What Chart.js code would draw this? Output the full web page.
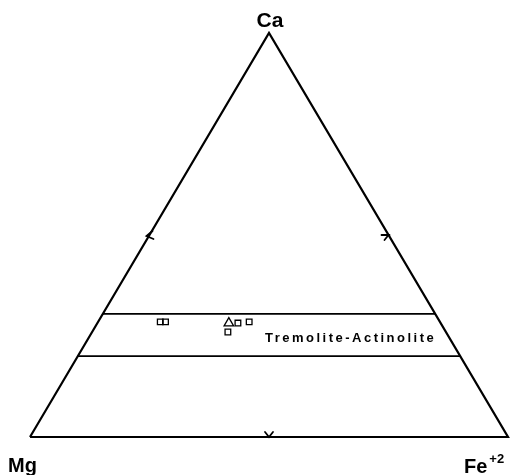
<!DOCTYPE html>
<html>
<head>
<meta charset="utf-8">
<script src="https://cdn.jsdelivr.net/npm/chart.js@4.4.1/dist/chart.umd.min.js"></script>
<style>
  html, body { margin: 0; padding: 0; background: #fff; }
  canvas { display: block; }
</style>
</head>
<body>
<canvas id="ternary" width="523" height="475"></canvas>
<script>
// Ca - Mg - Fe+2 amphibole diagram
const fieldBounds = [0.305, 0.2];          // Ca fraction of the field boundaries
const fieldName = 'Tremolite-Actinolite';
const fieldLabelAt = [0.245, 0.369];       // [Ca, Fe] where the field name starts

// analyses, Ca and Fe fractions (Mg = 1 - Ca - Fe)
const squareCa = [0.285, 0.285, 0.260, 0.282, 0.285];
const squareFe = [0.130, 0.141, 0.284, 0.294, 0.316];
const triangleCa = [0.282];
const triangleFe = [0.275];

// ternary -> cartesian, Mg at (0,0), Fe at (1,0), Ca at (0.5,1)
function tern(ca, fe) {
  return { x: fe + ca / 2, y: ca };
}

const outline = [tern(0, 0), tern(0, 1), tern(1, 0), tern(0, 0)];

const boundarySets = fieldBounds.map(ca => ({
  data: [tern(ca, 0), tern(ca, 1 - ca)],
  showLine: true,
  borderColor: '#000',
  borderWidth: 1.8,
  pointRadius: 0,
}));

const FONT = '"Liberation Sans", Arial, Helvetica, sans-serif';

const decorations = {
  id: 'decorations',
  afterDatasetsDraw(chart) {
    const ctx = chart.ctx;
    const xs = chart.scales.x, ys = chart.scales.y;
    const px = p => [xs.getPixelForValue(p.x), ys.getPixelForValue(p.y)];

    ctx.save();
    ctx.strokeStyle = '#000';
    ctx.lineWidth = 1.8;
    ctx.lineCap = 'round';

    // 50% marks on the three sides
    let [x, y] = px(tern(0.5, 0));
    ctx.beginPath();
    ctx.moveTo(x + 3, y - 4);
    ctx.lineTo(x - 3, y + 1);
    ctx.lineTo(x + 4, y + 4);
    ctx.stroke();

    [x, y] = px(tern(0.5, 0.5));
    ctx.beginPath();
    ctx.moveTo(x - 7, y);
    ctx.lineTo(x + 1, y);
    ctx.moveTo(x, y);
    ctx.lineTo(x - 4, y + 5);
    ctx.stroke();

    [x, y] = px(tern(0, 0.5));
    ctx.beginPath();
    ctx.moveTo(x - 4, y - 5);
    ctx.lineTo(x, y);
    ctx.lineTo(x + 4, y - 5);
    ctx.stroke();

    // corner labels
    ctx.fillStyle = '#000';
    ctx.textBaseline = 'alphabetic';
    [x, y] = px(tern(1, 0));
    ctx.font = 'bold 21px ' + FONT;
    ctx.textAlign = 'center';
    ctx.fillText('Ca', x + 1, y - 6);

    [x, y] = px(tern(0, 0));
    ctx.font = 'bold 20px ' + FONT;
    ctx.textAlign = 'left';
    ctx.fillText('Mg', x - 22, y + 35);

    [x, y] = px(tern(0, 1));
    ctx.fillText('Fe', x - 44, y + 36);
    const feW = ctx.measureText('Fe').width;
    ctx.font = 'bold 13px ' + FONT;
    ctx.fillText('+2', x - 44 + feW + 2, y + 26);

    // field name
    [x, y] = px(tern(fieldLabelAt[0], fieldLabelAt[1]));
    ctx.font = 'bold 13px ' + FONT;
    ctx.letterSpacing = '2.5px';
    ctx.textBaseline = 'middle';
    ctx.fillText(fieldName, x, y);
    ctx.restore();
  }
};

new Chart(document.getElementById('ternary').getContext('2d'), {
  type: 'scatter',
  data: {
    datasets: [
      {
        data: outline,
        showLine: true,
        borderColor: '#000',
        borderWidth: 2.2,
        pointRadius: 0,
      },
      ...boundarySets,
      {
        data: squareCa.map((ca, i) => tern(ca, squareFe[i])),
        pointStyle: 'rect',
        pointRadius: 4,
        borderWidth: 1.3,
        borderColor: '#000',
        backgroundColor: 'rgba(0,0,0,0)',
      },
      {
        data: triangleCa.map((ca, i) => tern(ca, triangleFe[i])),
        pointStyle: 'triangle',
        pointRadius: 5.5,
        borderWidth: 1.3,
        borderColor: '#000',
        backgroundColor: 'rgba(0,0,0,0)',
      },
    ],
  },
  options: {
    responsive: false,
    animation: false,
    devicePixelRatio: 1,
    clip: false,
    layout: { padding: { left: 30, right: 15, top: 33, bottom: 38 } },
    scales: {
      x: { type: 'linear', min: 0, max: 1, display: false },
      y: { type: 'linear', min: 0, max: 1, display: false },
    },
    plugins: {
      legend: { display: false },
      tooltip: { enabled: false },
    },
  },
  plugins: [decorations],
});
</script>
</body>
</html>
